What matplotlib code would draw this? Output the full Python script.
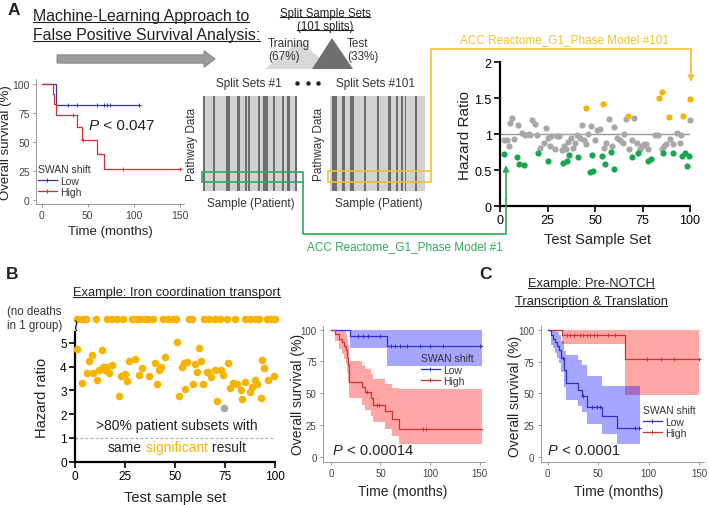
import numpy as np
import matplotlib
matplotlib.use("Agg")
import matplotlib.pyplot as plt
from matplotlib.colors import ListedColormap
from matplotlib.lines import Line2D
from matplotlib.patches import Polygon, Rectangle, FancyArrow

plt.rcParams.update({
    "font.family": ["Liberation Sans", "DejaVu Sans"],
    "font.size": 8,
    "text.color": "#222222",
    "axes.labelcolor": "#222222",
})

W, H = 709, 506

BLUE = "#2f2fc8"
RED = "#d22f2f"
GOLD = "#f6b400"
GREEN = "#1aa64e"
GRAY_PT = "#a8a8a8"
LINE_GREEN = "#2eaa5a"
LINE_GOLD = "#f2c12e"

# ---- A: KM of the full cohort ----
A_LOW_T = [0, 16]
A_LOW_S = [100, 82]
A_LOW_END = 106
A_LOW_CENS = [29, 38.5, 59.5, 67.5, 70.5, 74.5, 106]
A_HIGH_T = [0, 12, 13.5, 15, 38.5, 43.5, 59.5, 67.5]
A_HIGH_S = [100, 91, 83, 73, 63, 52, 40, 27]
A_HIGH_END = 150
A_HIGH_CENS = [33.5, 45, 88, 150]

# ---- A: split membership (test columns) ----
N_SAMPLES = 56
SPLIT1_TEST = [0, 6, 14, 15, 20, 21, 25, 27, 33, 36, 37, 38, 42, 47, 50, 51, 55]
SPLIT101_TEST = [1, 2, 3, 7, 8, 12, 13, 20, 28, 34, 35, 39, 42, 44, 50]

# ---- A: hazard ratio per test sample set ----
ACC_GRAY_X = [2, 3.5, 4.5, 5.5, 6.5, 7.5, 9.5, 11.5, 13, 15, 16, 17, 18.5, 19.5, 21, 23, 24, 25,
              26.5, 27, 29, 30, 31, 32.5, 33.5, 34.5, 36, 37.5, 38.5, 39.5, 40.5, 42, 43, 44,
              45.5, 46.5, 48, 50, 51, 52.5, 54.5, 56, 57.5, 59, 60, 61.5, 63, 64.5, 65.5, 66.5,
              68, 69.5, 70.5, 72, 73.5, 74.5, 76, 77, 78, 81.5, 83, 85, 86.5, 87.5, 89.5, 91,
              93, 94.5, 95.5, 100]
ACC_GRAY_Y = [0.91, 0.92, 0.84, 1.15, 1.22, 0.93, 1.12, 1.02, 0.99, 1.0, 0.98, 1.2, 1.14, 0.98,
              0.81, 0.88, 1.09, 0.94, 0.84, 0.97, 0.79, 0.97, 0.97, 0.78, 0.84, 0.79, 0.89, 0.94,
              0.81, 0.88, 0.99, 0.95, 1.12, 0.91, 0.86, 1.0, 1.11, 0.91, 1.06, 1.07, 0.80, 0.88,
              1.21, 0.84, 1.10, 0.95, 0.91, 0.88, 1.0, 1.21, 0.79, 0.91, 1.22, 0.88, 0.79, 0.84,
              0.86, 0.86, 0.79, 0.98, 0.98, 0.79, 0.84, 0.86, 0.93, 0.86, 1.02, 0.88, 0.98, 1.2]
ACC_GREEN_X = [2.3, 8.8, 10.1, 12.6, 19.9, 25.1, 33, 35.1, 36.5, 41.2, 47.4, 49.1, 48.4, 53.5,
               55.3, 58.2, 60, 69.3, 72.8, 78.1, 79.3, 86, 91.2, 95.6, 97.4, 98.2, 99.6]
ACC_GREEN_Y = [0.72, 0.68, 0.58, 0.57, 0.74, 0.63, 0.6, 0.63, 0.71, 0.68, 0.47, 0.48, 0.71, 0.70,
               0.59, 0.75, 0.51, 0.68, 0.74, 0.63, 0.65, 0.73, 0.74, 0.70, 0.74, 0.56, 0.70]
ACC_GOLD_X = [45.3, 54, 67.5, 83.9, 85.2, 89.2, 96.2, 100]
ACC_GOLD_Y = [1.36, 1.42, 1.245, 1.5, 1.58, 1.24, 1.25, 1.49]

# ---- B: iron coordination transport ----
IRON_TOP_X = [0.8, 3.3, 5.5, 10.5, 15.8, 18.3, 20.8, 23.8, 28.3, 30.5, 32.5, 35, 36.7, 38.8,
              44.2, 46.7, 48.8, 50.5, 57.2, 58.3, 64.5, 67.2, 70, 72.5, 75.8, 80, 85, 87.5, 90,
              92, 95.8, 98, 100]
IRON_TOP_Y = 6  # "no deaths in 1 group"
IRON_X = [1.2, 3.3, 6.2, 7.2, 8.3, 9.2, 11.2, 12.2, 13.3, 14.2, 15, 16, 17.2, 18.3, 22.2, 22.8,
          25, 25.8, 27.2, 30, 32.2, 33.3, 37.2, 40, 41.2, 42.2, 42.8, 45, 50.8, 51.8, 53.3,
          54.5, 55.8, 55, 59.2, 60, 60.8, 62.2, 62.8, 63.8, 65.8, 66.7, 67.8, 70, 70.8, 72.8,
          73.8, 76.7, 77.5, 79, 80.8, 83, 83.3, 85, 87.5, 88.3, 90, 90.8, 93.3, 94.7, 93,
          96.7, 99.7]
IRON_Y = [4.73, 3.32, 3.74, 4.25, 4.49, 3.74, 3.43, 3.88, 4.70, 3.99, 3.88, 4.0, 3.74, 4.07,
          2.75, 3.6, 3.69, 3.41, 4.25, 4.31, 3.64, 3.96, 3.6, 4.14, 3.29, 3.86, 4.0, 4.42, 5.03,
          2.75, 4.0, 4.14, 4.21, 3.08, 3.29, 4.11, 3.78, 4.77, 4.25, 3.29, 3.78, 3.78, 3.57,
          3.88, 2.56, 3.88, 3.67, 4.14, 3.1, 3.33, 3.29, 3.0, 2.66, 3.36, 2.94, 3.15, 3.43,
          3.29, 4.28, 3.93, 2.7, 3.46, 3.6]
IRON_NS_X = [74.5]
IRON_NS_Y = [2.27]

B_LOW_T = [0, 19, 57]
B_LOW_S = [100, 95, 87]
B_LOW_UP = [100, 100, 100]
B_LOW_LO = [100, 85.5, 71.5]
B_LOW_END = 152
B_LOW_CENS = [27.5, 32.5, 37.5, 49.5, 60.5, 64.5, 69.5, 76.5, 90, 100, 113.5, 150]
B_HIGH_T = [0, 4, 8, 11, 13, 15, 16, 17, 18, 31, 34, 40, 42, 55, 62, 69]
B_HIGH_S = [100, 97, 93, 90, 87, 84, 78, 72, 59, 55, 51, 46, 41, 36, 30, 22]
B_HIGH_UP = [100, 100, 100, 100, 100, 97, 93, 88, 75, 72, 69, 65, 61, 57, 54, 53]
B_HIGH_LO = [100, 91, 85, 81, 77, 73, 66, 59, 46, 41, 37, 32, 27, 22, 16, 10]
B_HIGH_END = 152
B_HIGH_CENS = [36, 46, 48.5, 92.5, 96]

# ---- C: pre-NOTCH transcription & translation ----
C_LOW_T = [0, 3, 5.5, 7, 9.5, 11, 13, 16.5, 17.8, 30, 33.5, 38.5, 53.5, 68.5]
C_LOW_S = [100, 96, 93, 90, 87, 84, 78, 68, 58, 53, 48, 39, 32, 23]
C_LOW_UP = [100, 100, 100, 100, 98, 96, 91, 83, 80, 76, 72, 64, 56, 56]
C_LOW_LO = [100, 88, 86, 82, 78, 74, 67, 55, 45, 40, 35, 26, 18, 10]
C_LOW_END = 91
C_LOW_CENS = [15.5, 35, 43.5, 48.5, 51.8, 86.4, 90]
C_HIGH_T = [0, 14, 77]
C_HIGH_S = [100, 96, 77]
C_HIGH_UP = [100, 100, 100]
C_HIGH_LO = [100, 89, 49]
C_HIGH_END = 150
C_HIGH_CENS = [19, 22, 26.5, 32, 34.5, 39, 42, 45.5, 49, 60, 67, 98, 112, 125, 150]


fig = plt.figure(figsize=(W / 100, H / 100), dpi=100)


def px_axes(x0, y0, x1, y1):
    return fig.add_axes([x0 / W, 1 - y1 / H, (x1 - x0) / W, (y1 - y0) / H])


# overlay in pixel coords (y down), drawn on top
ov = fig.add_axes([0, 0, 1, 1])
ov.set_xlim(0, W)
ov.set_ylim(H, 0)
ov.axis("off")
ov.set_zorder(10)


def km(ax, t, s, end, cens, color, lo=None, up=None, band=None):
    tt = list(t) + [end]
    ss = list(s) + [s[-1]]
    if lo is not None:
        ax.fill_between(tt, list(lo) + [lo[-1]], list(up) + [up[-1]], step="post",
                        color=band, alpha=0.35, lw=0, zorder=1)
    ax.step(tt, ss, where="post", color=color, lw=0.9, zorder=3)
    idx = np.searchsorted(t, cens, side="right") - 1
    ax.plot(cens, np.asarray(s)[idx], ls="none", marker="+", ms=3.5, mew=0.7,
            color=color, zorder=4)


def km_style(ax, xlim, fs, xlab_pos, ylab_pos, lab_fs=10):
    ax.set_xlim(*xlim)
    ax.set_ylim(-4, 103)
    ax.set_xticks([0, 50, 100, 150])
    ax.set_yticks([0, 25, 50, 75, 100])
    for side in ("top", "right"):
        ax.spines[side].set_visible(False)
    for side in ("left", "bottom"):
        ax.spines[side].set_color("#8c8c8c")
        ax.spines[side].set_linewidth(0.6)
    ax.tick_params(labelsize=fs, colors="#8c8c8c", labelcolor="#444444",
                   length=2.5, width=0.6, pad=2)
    ax.set_xlabel("Time (months)", fontsize=lab_fs, va="center")
    ax.set_ylabel("Overall survival (%)", fontsize=lab_fs, va="center")
    ax.xaxis.set_label_coords(*xlab_pos, transform=ov.transData)
    ax.yaxis.set_label_coords(*ylab_pos, transform=ov.transData)


def km_legend(ax, x, y):
    handles = [Line2D([], [], color=BLUE, lw=0.9, marker="+", ms=3.5, mew=0.7),
               Line2D([], [], color=RED, lw=0.9, marker="+", ms=3.5, mew=0.7)]
    leg = ax.legend(handles, ["Low", "High"], title="SWAN shift", loc="upper left",
                    bbox_to_anchor=(x, y), bbox_transform=ov.transData, frameon=False,
                    fontsize=7.5, title_fontsize=7.5, alignment="left",
                    handlelength=1.8, handletextpad=0.3, labelspacing=0.15,
                    borderpad=0, borderaxespad=0, numpoints=1)
    for txt in leg.get_texts():
        txt.set_color("#333333")
    leg.get_title().set_color("#333333")


def p_text(x, y, s, fs):
    t = ov.text(x, y, "P", fontsize=fs, style="italic", ha="left", va="baseline")
    ov.annotate(s, xy=(1, 0), xycoords=t, va="bottom", ha="left", fontsize=fs)


def hr_style(ax, fs):
    for side in ("top", "right"):
        ax.spines[side].set_visible(False)
    for side in ("left", "bottom"):
        ax.spines[side].set_linewidth(1.6)
    ax.tick_params(labelsize=fs, length=4, width=1.2, pad=2)


underlined = []


def title_text(x, y, s, fs, ha="left"):
    t = ov.text(x, y, s, fontsize=fs, ha=ha, va="baseline")
    underlined.append(t)
    return t


# ================= Panel A =================
ov.text(8, 15, "A", fontsize=12.5, fontweight="bold", va="baseline")
title_text(33, 20.5, "Machine-Learning Approach to", 11.4)
title_text(33, 39.5, "False Positive Survival Analysis:", 11.4)
ov.add_patch(FancyArrow(57, 60, 158, 0, width=8.3, head_width=16.7, head_length=11,
                        length_includes_head=True, fc="#9c9c9c", ec="#7c7c7c", lw=0.6))

# split sample sets schematic
title_text(325, 16.5, "Split Sample Sets", 8.3, ha="center")
title_text(325, 30, "(101 splits)", 8.3, ha="center")
ov.add_patch(Polygon([(265, 70), (299, 42), (333, 70)], closed=True, fc="#d9d9d9", ec="none"))
ov.add_patch(Polygon([(312, 70), (332, 39), (353, 70)], closed=True, fc="#6f6f6f", ec="none"))
for txt, x, y in [("Training", 268, 46.5), ("(67%)", 268, 60),
                  ("Test", 347, 46.5), ("(33%)", 347, 60)]:
    ov.text(x, y, txt, fontsize=8.5, va="baseline", color="#333333")

# KM of the full cohort
ax = px_axes(36, 80.4, 184, 205)
km(ax, A_LOW_T, A_LOW_S, A_LOW_END, A_LOW_CENS, BLUE)
km(ax, A_HIGH_T, A_HIGH_S, A_HIGH_END, A_HIGH_CENS, RED)
km_style(ax, (-6.2, 154.3), 7.5, (110, 232), (6, 143), lab_fs=9.5)
ax.set_ylim(-3.5, 104)
km_legend(ax, 38, 165)
p_text(89, 129.5, " < 0.047", 11)

# split heat maps
cmap = ListedColormap(["#d2d2d2", "#6e6e6e"])
for box, test, title, tx in [((203, 97, 297, 192), SPLIT1_TEST, "Split Sets #1", 249),
                             ((330, 97, 425, 192), SPLIT101_TEST, "Split Sets #101", 376)]:
    hx = px_axes(*box)
    member = np.zeros((1, N_SAMPLES))
    member[0, test] = 1
    hx.imshow(member, cmap=cmap, aspect="auto", interpolation="nearest", vmin=0, vmax=1)
    hx.set_xticks([])
    hx.set_yticks([])
    for sp in hx.spines.values():
        sp.set_visible(False)
    ov.text(tx, 84, title, fontsize=8.5, ha="center", va="center", color="#333333")
    ov.text(box[0] - 11, (box[1] + box[3]) / 2, "Pathway Data", fontsize=8.5, rotation=90,
            ha="center", va="center", color="#333333")
    ov.text((box[0] + box[2]) / 2 + 1, 204.5, "Sample (Patient)", fontsize=8.5,
            ha="center", va="center", color="#333333")
ov.plot([296.7, 308.3, 318.3], [84, 84, 84], ls="none", marker="o", ms=2.2, color="#222222")

# hazard ratio scatter
sx = px_axes(500, 63, 690, 207)
sx.axhline(1, xmin=0, xmax=1, color="#9a9a9a", lw=1, zorder=1)
sx.scatter(ACC_GRAY_X, ACC_GRAY_Y, s=20, color=GRAY_PT, lw=0, zorder=2, clip_on=False)
sx.scatter(ACC_GREEN_X, ACC_GREEN_Y, s=20, color=GREEN, lw=0, zorder=3, clip_on=False)
sx.scatter(ACC_GOLD_X, ACC_GOLD_Y, s=20, color=GOLD, lw=0, zorder=3, clip_on=False)
sx.set_xlim(0, 100)
sx.set_ylim(0, 2)
sx.set_xticks([0, 25, 50, 75, 100])
sx.set_yticks([0, 0.5, 1, 1.5, 2])
sx.set_yticklabels(["0", "0.5", "1", "1.5", "2"])
hr_style(sx, 9)
sx.set_xlabel("Test Sample Set", fontsize=10.5, va="center")
sx.set_ylabel("Hazard Ratio", fontsize=11, va="center")
sx.xaxis.set_label_coords(597, 240, transform=ov.transData)
sx.yaxis.set_label_coords(465, 135, transform=ov.transData)

# connectors
ov.add_patch(Rectangle((202, 173), 101, 10, fill=False, ec=LINE_GREEN, lw=1.2))
ov.plot([303, 303, 506, 506], [183, 235, 235, 200], color=LINE_GREEN, lw=1.2)
ov.annotate("", xy=(506, 166), xytext=(506, 201),
            arrowprops=dict(arrowstyle="-|>", color=LINE_GREEN, lw=1.2, mutation_scale=9,
                            shrinkA=0, shrinkB=0))
ov.text(405, 247, "ACC Reactome_G1_Phase Model #1", fontsize=8.5, color=LINE_GREEN,
        ha="center", va="center")
ov.add_patch(Rectangle((328, 172), 103, 11, fill=False, ec=LINE_GOLD, lw=1.2))
ov.plot([431, 431, 691, 691], [172, 50, 50, 70], color=LINE_GOLD, lw=1.2)
ov.annotate("", xy=(691, 83), xytext=(691, 66),
            arrowprops=dict(arrowstyle="-|>", color=LINE_GOLD, lw=1.2, mutation_scale=9,
                            shrinkA=0, shrinkB=0))
ov.text(565, 40, "ACC Reactome_G1_Phase Model #101", fontsize=8.5, color=LINE_GOLD,
        ha="center", va="center")

# ================= Panel B =================
ov.text(6, 279, "B", fontsize=12.5, fontweight="bold", va="baseline")
title_text(72.7, 296, "Example: Iron coordination transport", 9.3)

bx = px_axes(75, 315.5, 275, 462.7)
bx.plot([0, 100], [1, 1], ls=(0, (2.5, 2)), color="#aaaaaa", lw=0.8, zorder=1)
bx.scatter(IRON_TOP_X, [IRON_TOP_Y] * len(IRON_TOP_X), s=30, color=GOLD, lw=0,
           zorder=3, clip_on=False)
bx.scatter(IRON_X, IRON_Y, s=30, color=GOLD, lw=0, zorder=3, clip_on=False)
bx.scatter(IRON_NS_X, IRON_NS_Y, s=30, color=GRAY_PT, lw=0, zorder=3, clip_on=False)
bx.set_xlim(0, 100)
bx.set_ylim(0, 6.2)
bx.set_xticks([0, 25, 50, 75, 100])
bx.set_yticks([0, 1, 2, 3, 4, 5])
hr_style(bx, 8.5)
bx.spines["left"].set_bounds(0, 5.45)
bx.set_xlabel("Test sample set", fontsize=10.5, va="center")
bx.set_ylabel("Hazard ratio", fontsize=10.5, va="center")
bx.xaxis.set_label_coords(175, 498, transform=ov.transData)
bx.yaxis.set_label_coords(42, 398, transform=ov.transData)
ov.text(75.5, 326, "\u2240", fontsize=12, ha="center", va="center",
        family=["DejaVu Sans"])
ov.text(7, 315.5, "(no deaths", fontsize=8.3, ha="left", va="baseline", color="#333333")
ov.text(7, 329.5, "in 1 group)", fontsize=8.3, ha="left", va="baseline", color="#333333")
ov.text(177, 426, ">80% patient subsets with", fontsize=10, ha="center", va="center")
t1 = ov.text(108, 452, "same", fontsize=10, ha="left", va="baseline")
t2 = ov.annotate(" significant", xy=(1, 0), xycoords=t1, va="bottom", ha="left",
                 fontsize=10, color=GOLD)
ov.annotate(" result", xy=(1, 0), xycoords=t2, va="bottom", ha="left", fontsize=10)

kb = px_axes(323, 326.9, 484.5, 462.8)
km(kb, B_LOW_T, B_LOW_S, B_LOW_END, B_LOW_CENS, BLUE, B_LOW_LO, B_LOW_UP, "#0000ff")
km(kb, B_HIGH_T, B_HIGH_S, B_HIGH_END, B_HIGH_CENS, RED, B_HIGH_LO, B_HIGH_UP, "#ff0000")
km_style(kb, (-8, 155), 7, (402.5, 492), (298, 394))
km_legend(kb, 421, 354)
p_text(333, 455, " < 0.00014", 10.5)

# ================= Panel C =================
ov.text(479, 279, "C", fontsize=12.5, fontweight="bold", va="baseline")
title_text(591, 287, "Example: Pre-NOTCH", 9.3, ha="center")
title_text(591, 305, "Transcription & Translation", 9.3, ha="center")

kc = px_axes(540.7, 326.9, 704.1, 463.1)
km(kc, C_HIGH_T, C_HIGH_S, C_HIGH_END, C_HIGH_CENS, RED, C_HIGH_LO, C_HIGH_UP, "#ff0000")
km(kc, C_LOW_T, C_LOW_S, C_LOW_END, C_LOW_CENS, BLUE, C_LOW_LO, C_LOW_UP, "#0000ff")
km_style(kc, (-7, 155), 7, (619, 492), (515, 396))
km_legend(kc, 643, 406)
p_text(548, 455, " < 0.0001", 10.5)

# underline the titles
fig.canvas.draw()
inv = ov.transData.inverted()
for t in underlined:
    bb = t.get_window_extent()
    (x0, _), (x1, _) = inv.transform([[bb.x0, bb.y0], [bb.x1, bb.y1]])
    yb = t.get_position()[1] + 0.13 * t.get_fontsize() * 100 / 72
    ov.plot([x0, x1], [yb, yb], color="#222222", lw=0.8)

fig.savefig("out.png", dpi=100)
